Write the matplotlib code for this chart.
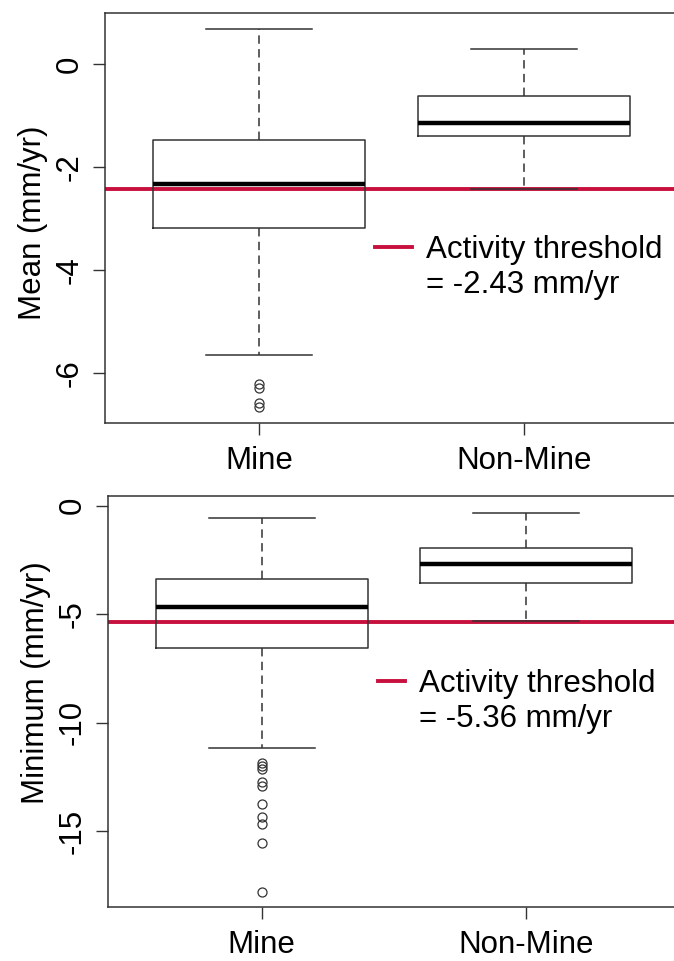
import matplotlib
matplotlib.use("Agg")
import matplotlib.pyplot as plt
from matplotlib.lines import Line2D

plt.rcParams['font.family'] = ['Liberation Sans', 'DejaVu Sans']

# groups
categories = ['Mine', 'Non-Mine']

# mean velocity (mm/yr) box stats, per group: [Mine, Non-Mine]
mean_whishi = [0.68, 0.30]
mean_q3 = [-1.46, -0.61]
mean_med = [-2.33, -1.14]
mean_q1 = [-3.17, -1.40]
mean_whislo = [-5.65, -2.42]
mean_fliers_mine = [-6.21, -6.28, -6.59, -6.66]
mean_threshold = -2.43

# minimum velocity (mm/yr) box stats
min_whishi = [-0.57, -0.31]
min_q3 = [-3.38, -1.95]
min_med = [-4.67, -2.69]
min_q1 = [-6.57, -3.56]
min_whislo = [-11.17, -5.30]
min_fliers_mine = [-11.83, -11.98, -12.13, -12.70, -12.90, -13.73,
                   -14.34, -14.65, -15.54, -17.77]
min_threshold = -5.36

RED = '#c8103e'
EDGE = '#333333'
FS = 22.5


def make_stats(whishi, q3, med, q1, whislo, fliers_first):
    stats = []
    for i, name in enumerate(categories):
        stats.append({
            'label': name,
            'whishi': whishi[i], 'q3': q3[i], 'med': med[i],
            'q1': q1[i], 'whislo': whislo[i],
            'fliers': fliers_first if i == 0 else [],
        })
    return stats


def draw_panel(ax, stats, threshold, ylim, yticks, ylabel, leg_anchor, handlelen, label_y):
    ax.bxp(stats, positions=[1, 2], widths=0.8, showfliers=True,
           boxprops=dict(color=EDGE, lw=1.1),
           whiskerprops=dict(color=EDGE, lw=1.1, linestyle=(0, (5.5, 3.5))),
           capprops=dict(color=EDGE, lw=1.1),
           medianprops=dict(color='black', lw=3.2, solid_capstyle='butt'),
           flierprops=dict(marker='o', mfc='none', mec=EDGE, ms=6.5, mew=0.9))
    # threshold under the boxes so the whisker cap still shows
    ax.axhline(threshold, color=RED, lw=2.8, zorder=1.5)

    ax.set_xlim(0.42, 2.58)
    ax.set_ylim(*ylim)
    ax.set_yticks(yticks)
    ax.set_yticklabels([f'{t:g}' for t in yticks], rotation=90, va='center')
    ax.set_xticks([1, 2])
    ax.set_xticklabels(categories)
    ax.tick_params(axis='both', length=8.5, width=1.0, color=EDGE, labelsize=FS)
    ax.tick_params(axis='y', pad=6)
    ax.tick_params(axis='x', pad=8)
    for s in ax.spines.values():
        s.set_color(EDGE)
        s.set_linewidth(1.1)
    # the right edge of the frame is cut off in the original image
    ax.spines['right'].set_visible(False)

    ax.set_ylabel(ylabel, fontsize=FS)
    ax.yaxis.set_label_coords(-0.099, label_y)

    handles = [Line2D([], [], color=RED, lw=2.8),
               Line2D([], [], linestyle='none')]
    labels = ['Activity threshold', f'= {threshold:.2f} mm/yr']
    ax.legend(handles, labels, loc='upper left', bbox_to_anchor=leg_anchor,
              frameon=False, fontsize=FS, handlelength=handlelen,
              handletextpad=0.45, labelspacing=0.17, borderpad=0,
              borderaxespad=0)


fig = plt.figure(figsize=(6.74, 9.61), dpi=100)
ax1 = fig.add_axes([105 / 674, 1 - 423 / 961, 573 / 674, 410 / 961])
ax2 = fig.add_axes([108 / 674, 1 - 907 / 961, 572 / 674, 411 / 961])

draw_panel(ax1, make_stats(mean_whishi, mean_q3, mean_med, mean_q1, mean_whislo, mean_fliers_mine),
           mean_threshold, (-6.97, 1.0), [-6, -4, -2, 0], 'Mean (mm/yr)',
           (0.471, 0.459), 1.2, 0.488)
draw_panel(ax2, make_stats(min_whishi, min_q3, min_med, min_q1, min_whislo, min_fliers_mine),
           min_threshold, (-18.48, 0.45), [-15, -10, -5, 0], 'Minimum (mm/yr)',
           (0.472, 0.579), 0.86, 0.547)

fig.savefig('out.png', dpi=100)
